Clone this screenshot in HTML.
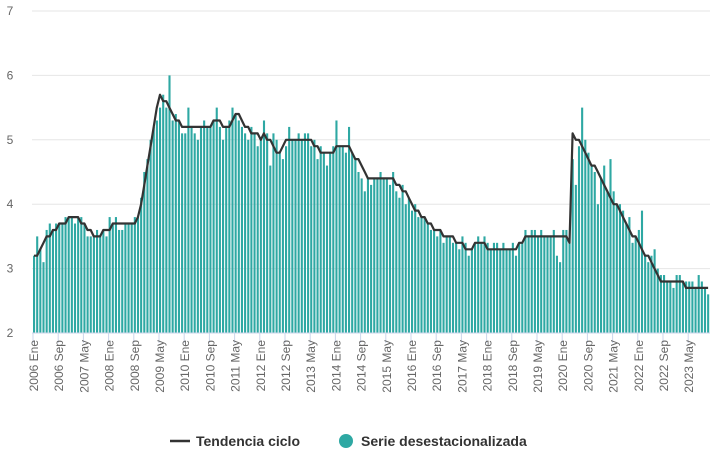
<!DOCTYPE html>
<html><head><meta charset="utf-8"><style>
body{margin:0;background:#fff;}
svg{display:block;font-family:"Liberation Sans",sans-serif;}
</style></head><body>
<svg id="chart" width="715" height="457" viewBox="0 0 715 457"></svg>
<script>
const yTicks=[2,3,4,5,6,7];
const monthNames=["Ene","Feb","Mar","Abr","May","Jun","Jul","Ago","Sep","Oct","Nov","Dic"];
const trend=[
3.2,3.2,3.3,3.4,3.5,3.5,3.6,3.6,3.7,3.7,3.7,3.8,
3.8,3.8,3.8,3.7,3.7,3.6,3.6,3.5,3.5,3.5,3.6,3.6,
3.6,3.7,3.7,3.7,3.7,3.7,3.7,3.7,3.7,3.8,4.0,4.3,
4.6,4.9,5.2,5.5,5.7,5.6,5.6,5.5,5.4,5.3,5.3,5.2,
5.2,5.2,5.2,5.2,5.2,5.2,5.2,5.2,5.2,5.3,5.3,5.3,
5.2,5.2,5.2,5.3,5.4,5.4,5.3,5.2,5.2,5.1,5.1,5.1,
5.0,5.1,5.0,5.0,4.9,4.8,4.8,4.9,5.0,5.0,5.0,5.0,
5.0,5.0,5.0,5.0,5.0,4.9,4.9,4.8,4.8,4.8,4.8,4.8,
4.9,4.9,4.9,4.9,4.9,4.8,4.7,4.7,4.6,4.5,4.4,4.4,
4.4,4.4,4.4,4.4,4.4,4.4,4.4,4.3,4.3,4.2,4.2,4.1,
4.0,3.9,3.9,3.8,3.8,3.7,3.7,3.6,3.6,3.6,3.5,3.5,
3.5,3.5,3.4,3.4,3.4,3.3,3.3,3.3,3.4,3.4,3.4,3.4,
3.3,3.3,3.3,3.3,3.3,3.3,3.3,3.3,3.3,3.3,3.4,3.4,
3.5,3.5,3.5,3.5,3.5,3.5,3.5,3.5,3.5,3.5,3.5,3.5,
3.5,3.5,3.4,5.1,5.0,5.0,4.9,4.8,4.7,4.6,4.6,4.5,
4.4,4.3,4.2,4.1,4.0,4.0,3.9,3.8,3.7,3.6,3.5,3.5,
3.4,3.3,3.2,3.2,3.1,3.0,2.9,2.8,2.8,2.8,2.8,2.8,
2.8,2.8,2.8,2.7,2.7,2.7,2.7,2.7,2.7,2.7,2.7];
const series=[
3.2,3.5,3.3,3.1,3.6,3.7,3.6,3.7,3.7,3.7,3.8,3.8,
3.8,3.7,3.8,3.8,3.7,3.5,3.5,3.5,3.6,3.5,3.6,3.5,
3.8,3.7,3.8,3.6,3.6,3.7,3.7,3.7,3.8,3.8,4.1,4.5,
4.7,5.0,5.2,5.3,5.5,5.7,5.5,6.0,5.3,5.4,5.3,5.1,
5.1,5.5,5.2,5.1,5.0,5.2,5.3,5.2,5.2,5.3,5.5,5.2,
5.0,5.2,5.3,5.5,5.4,5.3,5.2,5.1,5.0,5.2,5.1,4.9,
5.0,5.3,5.1,4.6,5.1,5.0,4.8,4.7,4.9,5.2,5.0,5.0,
5.1,5.0,5.1,5.1,4.9,5.0,4.7,4.9,4.8,4.6,4.8,4.9,
5.3,4.9,4.9,4.8,5.2,4.8,4.7,4.5,4.4,4.2,4.4,4.3,
4.4,4.4,4.5,4.4,4.4,4.3,4.5,4.2,4.1,4.3,4.0,4.1,
3.9,4.0,3.8,3.8,3.8,3.7,3.6,3.6,3.5,3.6,3.4,3.5,
3.5,3.4,3.4,3.3,3.5,3.4,3.2,3.3,3.4,3.5,3.4,3.5,
3.4,3.3,3.4,3.4,3.3,3.4,3.3,3.3,3.4,3.2,3.4,3.4,
3.6,3.5,3.6,3.6,3.5,3.6,3.5,3.5,3.5,3.6,3.2,3.1,
3.6,3.6,3.4,4.7,4.3,4.9,5.5,5.0,4.8,4.6,4.5,4.0,
4.4,4.6,4.2,4.7,4.2,4.0,4.0,3.9,3.7,3.8,3.4,3.5,
3.6,3.9,3.2,3.1,3.2,3.3,3.0,2.9,2.9,2.8,2.8,2.7,
2.9,2.9,2.8,2.8,2.8,2.8,2.7,2.9,2.8,2.7,2.6];
const startYear=2006;

const svg=document.getElementById('chart');
const NS='http://www.w3.org/2000/svg';
const x0=34, dx=3.15, yBase=333, yUnit=64.4;
const xs=i=>x0+i*dx;
const ys=v=>yBase-(v-2)*yUnit;
function mk(tag,attrs,parent){const e=document.createElementNS(NS,tag);for(const k in attrs)e.setAttribute(k,attrs[k]);(parent||svg).appendChild(e);return e;}

yTicks.forEach(t=>{
  const g=mk('line',{x1:32,x2:710,y1:ys(t),y2:ys(t),stroke:'#e6e6e6','stroke-width':1});
  
  
  const l=mk('text',{x:10,y:ys(t)+4,'font-size':12,fill:'#666','text-anchor':'middle'});
  l.textContent=t;
  
  
});

series.forEach((v,i)=>{
  const b=mk('rect',{x:xs(i)-1,y:ys(v),width:2.1,height:yBase-ys(v),fill:'#2ea8a3'});
  
  
});

const pts=trend.map((v,i)=>xs(i).toFixed(1)+','+ys(v).toFixed(1)).join(' ');
const tl=mk('polyline',{points:pts,fill:'none',stroke:'#333','stroke-width':2.2,'stroke-linejoin':'round'});



const ax=mk('line',{x1:32,x2:710,y1:yBase,y2:yBase,stroke:'#ccd6eb','stroke-width':1});



for(let i=0;i<series.length;i+=8){
  const x=xs(i);
  const tk=mk('line',{x1:x-1,x2:x-1,y1:yBase,y2:yBase+10,stroke:'#ccd6eb','stroke-width':1});
  
  
  const lbl=(startYear+Math.floor(i/12))+' '+monthNames[i%12];
  const t=mk('text',{x:x+4,y:340,'font-size':12,fill:'#666','text-anchor':'end',transform:'rotate(-90 '+(x+4)+' 340)'});
  t.textContent=lbl;
  
  
}

const lg=mk('g',{});


const l1=mk('line',{x1:170,x2:190,y1:441,y2:441,stroke:'#333','stroke-width':2.5},lg);


const t1=mk('text',{x:196,y:446,'font-size':14,'font-weight':'bold',fill:'#333'},lg);
t1.textContent='Tendencia ciclo';


const c1=mk('circle',{cx:346,cy:441,r:7,fill:'#2ea8a3'},lg);


const t2=mk('text',{x:361,y:446,'font-size':14,'font-weight':'bold',fill:'#333'},lg);
t2.textContent='Serie desestacionalizada';


</script>
</body></html>
